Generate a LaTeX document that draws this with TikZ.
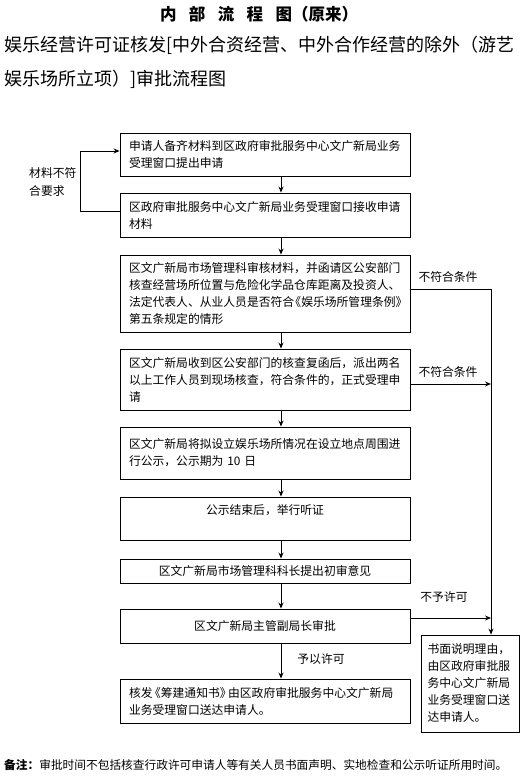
\documentclass[tikz,border=0pt]{standalone}
\usepackage{fontspec}
\setmainfont{Noto Sans CJK SC}
\usetikzlibrary{arrows.meta}

\begin{document}
\begin{tikzpicture}[x=1pt, y=-1pt,
        box/.style = {draw, line width=0.9pt, inner xsep=9pt, inner ysep=4pt, font=\fontsize{11.8}{17}\selectfont},
        txt/.style = {box, text width=272pt, align=left},
        mid/.style = {box, text width=272pt, align=center},
        lbl/.style = {font=\fontsize{11.8}{18}\selectfont, inner sep=0pt},
        ar/.style  = {-{Stealth[length=6pt, width=5pt]}, line width=0.9pt},
        ln/.style  = {line width=0.9pt}
    ]
        \useasboundingbox (0,0) rectangle (521,778);

        % headings
        \node[font=\bfseries\fontsize{16.5}{17}\selectfont] (title) at (259,14)
            {内\hspace{0.75em}部\hspace{0.75em}流\hspace{0.75em}程\hspace{0.75em}图（原来）};
        \node[anchor=west, inner sep=0pt, font=\fontsize{18}{18}\selectfont] (sub1) at (4,45)
            {娱乐经营许可证核发[中外合资经营、中外合作经营的除外（游艺};
        \node[anchor=west, inner sep=0pt, font=\fontsize{18}{18}\selectfont] (sub2) at (4,79)
            {娱乐场所立项）]审批流程图};

        \coordinate (spine) at (281,0);
        \coordinate (rail)  at (491,0);
        \coordinate (back)  at (80,0);

        % main steps
        \node[txt, minimum height=43pt] (apply)   at (265,154.5)
            {申请人备齐材料到区政府审批服务中心文广新局业务\\受理窗口提出申请};
        \node[txt, minimum height=44pt] (receive) at (265,215)
            {区政府审批服务中心文广新局业务受理窗口接收申请\\材料};
        \node[txt, minimum height=77pt] (review)  at (265,293.5)
            {区文广新局市场管理科审核材料，并函请区公安部门\\核查经营场所位置与危险化学品仓库距离及投资人、\\\mbox{法定代表人、从业人员是否符合\kern-0.4em《娱乐场所管理条例》}\\第五条规定的情形};
        \node[txt, minimum height=61pt] (inspect) at (265,379.5)
            {区文广新局收到区公安部门的核查复函后，派出两名\\以上工作人员到现场核查，符合条件的，正式受理申\\请};
        \node[txt, minimum height=52pt] (notice)  at (265,453)
            {区文广新局将拟设立娱乐场所情况在设立地点周围进\\行公示，公示期为 10 日};
        \node[mid, minimum height=43pt] (hearing) at (265,518.5)
            {公示结束后，举行听证\\\mbox{}};
        \node[mid, minimum height=24pt] (opinion) at (265,571)
            {区文广新局市场管理科科长提出初审意见};
        \node[mid, minimum height=34pt] (approve) at (265,626)
            {区文广新局主管副局长审批};
        \node[txt, minimum height=44pt] (issue)   at (265,701)
            {\mbox{核发\kern-0.3em《筹建通知书》\kern-0.3em由区政府审批服务中心文广新局}\\业务受理窗口送达申请人。};
        \node[box, inner xsep=6pt, text width=86pt, align=left, minimum height=97pt] (refuse) at (470.5,683.5)
            {书面说明理由，\\由区政府审批服\\务中心文广新局\\业务受理窗口送\\达申请人。};

        % flow down the spine
        \draw[ar] (apply.south -| spine)   -- (receive.north -| spine);
        \draw[ar] (receive.south -| spine) -- (review.north -| spine);
        \draw[ar] (review.south -| spine)  -- (inspect.north -| spine);
        \draw[ar] (inspect.south -| spine) -- (notice.north -| spine);
        \draw[ar] (notice.south -| spine)  -- (hearing.north -| spine);
        \draw[ar] (hearing.south -| spine) -- (opinion.north -| spine);
        \draw[ar] (opinion.south -| spine) -- (approve.north -| spine);
        \draw[ar] (approve.south -| spine) -- (issue.north -| spine);

        % materials sent back
        \draw[ar] ([yshift=4pt]receive.west) -- ([yshift=4pt]receive.west -| back)
            -- ([yshift=3.5pt]apply.west -| back) -- ([yshift=3.5pt]apply.west);

        % refusals on the right
        \draw[ar] ([yshift=4.5pt]review.east) -- ([yshift=4.5pt]review.east -| rail) -- (refuse.north -| rail);
        \draw[ar] ([yshift=-4.5pt]inspect.east) -- ([yshift=-4.5pt]inspect.east -| rail);
        \draw[ar] ([yshift=8pt]approve.east) -- ([yshift=8pt]approve.east -| rail);

        % labels
        \node[lbl, align=left, anchor=west] (lback) at (29,182) {材料不符\\合要求};
        \node[lbl] (lno1) at (448,277) {不符合条件};
        \node[lbl] (lno2) at (448,372) {不符合条件};
        \node[lbl] (lno3) at (444,597) {不予许可};
        \node[lbl] (lyes) at (321,659) {予以许可};

        % footnote
        \node[anchor=west, inner sep=0pt, font=\fontsize{11.7}{12}\selectfont] (note) at (4,765)
            {\textbf{备注：}审批时间不包括核查行政许可申请人等有关人员书面声明、实地检查和公示听证所用时间。};
    \end{tikzpicture}
\end{document}
